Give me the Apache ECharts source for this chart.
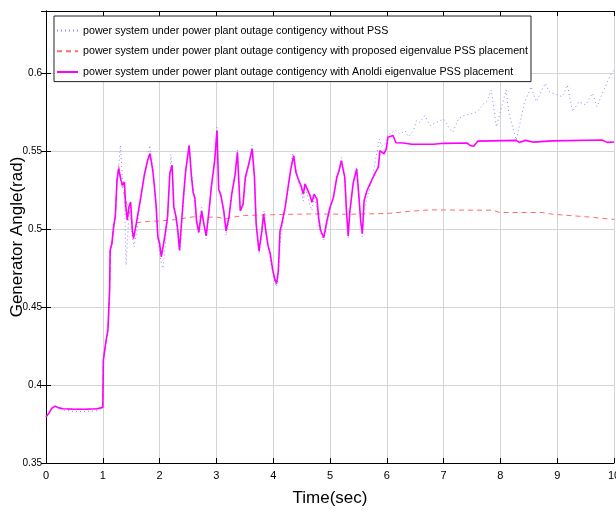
<!DOCTYPE html>
<html>
<head>
<meta charset="utf-8">
<script src="https://cdn.jsdelivr.net/npm/echarts@6/dist/echarts.min.js"></script>
<style>
html,body{margin:0;padding:0;background:#fff;}
#main{width:616px;height:513px;}
</style>
</head>
<body>
<div id="main"></div>
<script>
// Anoldi eigenvalue PSS placement (magenta solid)
var timeAnoldi = [0, 0.05, 0.1, 0.16, 0.22, 0.3, 0.5, 0.7, 0.9, 1.0, 1.01, 1.05, 1.09, 1.12, 1.13, 1.16, 1.19, 1.22, 1.25, 1.28,
    1.32, 1.35, 1.38, 1.40, 1.43, 1.46, 1.49, 1.52, 1.54, 1.58, 1.63, 1.67, 1.73, 1.79, 1.83, 1.88, 1.91, 1.94, 1.97, 2.0,
    2.03, 2.06, 2.09, 2.14, 2.18, 2.22, 2.25, 2.29, 2.32, 2.35, 2.42, 2.46, 2.52, 2.56, 2.59, 2.62, 2.65, 2.69, 2.74, 2.78,
    2.82, 2.87, 2.91, 2.97, 3.01, 3.04, 3.08, 3.13, 3.17, 3.22, 3.27, 3.33, 3.37, 3.42, 3.47, 3.51, 3.57, 3.63, 3.67, 3.70,
    3.75, 3.80, 3.83, 3.87, 3.91, 3.95, 3.99, 4.03, 4.06, 4.09, 4.12, 4.15, 4.21, 4.27, 4.31, 4.36, 4.40, 4.44, 4.49, 4.53,
    4.56, 4.60, 4.65, 4.68, 4.72, 4.77, 4.80, 4.83, 4.85, 4.89, 4.94, 5.0, 5.06, 5.12, 5.16, 5.2, 5.26, 5.29, 5.32, 5.35,
    5.41, 5.47, 5.51, 5.54, 5.57, 5.6, 5.65, 5.73, 5.8, 5.85, 5.88, 5.91, 5.95, 5.99, 6.02, 6.05, 6.11, 6.16, 6.29, 6.44,
    6.82, 7.0, 7.41, 7.48, 7.53, 7.6, 8.28, 8.33, 8.44, 8.57, 8.92, 9.79, 9.88, 10.0];
var angleAnoldi = [0.3795, 0.382, 0.385, 0.3865, 0.3855, 0.3848, 0.3845, 0.3845, 0.3848, 0.3857, 0.416, 0.4267, 0.4352, 0.461, 0.4865, 0.4908, 0.5015, 0.508, 0.5314, 0.5389,
    0.5314, 0.5282, 0.5303, 0.5164, 0.5058, 0.5143, 0.5175, 0.4994, 0.494, 0.5015, 0.5122, 0.5207, 0.5346, 0.5442, 0.5485, 0.5378, 0.5271, 0.5143, 0.495, 0.4908,
    0.4823, 0.4833, 0.495, 0.5079, 0.5357, 0.541, 0.5143, 0.5079, 0.4994, 0.4865, 0.5207, 0.5378, 0.5536, 0.5343, 0.5236, 0.5204, 0.5054, 0.4979, 0.5118, 0.5032,
    0.4957, 0.5118, 0.5268, 0.544, 0.5633, 0.5257, 0.5215, 0.5118, 0.4989, 0.5075, 0.5225, 0.5354, 0.5494, 0.5118, 0.5161, 0.5333, 0.5418, 0.5515, 0.5333, 0.5032,
    0.486, 0.4989, 0.5097, 0.4989, 0.4893, 0.4839, 0.4742, 0.4678, 0.465, 0.4732, 0.4989, 0.5032, 0.514, 0.529, 0.5386, 0.5472, 0.5365, 0.5322, 0.5279, 0.5225,
    0.529, 0.5257, 0.5215, 0.5172, 0.5225, 0.5193, 0.5075, 0.5, 0.4979, 0.4946, 0.5043, 0.514, 0.5204, 0.5333, 0.5376, 0.544, 0.5333, 0.5118, 0.4957, 0.5118,
    0.53, 0.5386, 0.5204, 0.5054, 0.4972, 0.5182, 0.5247, 0.5311, 0.5365, 0.5397, 0.5504, 0.5515, 0.5483, 0.5515, 0.559, 0.5601, 0.5601, 0.5555, 0.5553, 0.5545,
    0.5545, 0.5551, 0.5553, 0.5535, 0.5532, 0.5565, 0.557, 0.5557, 0.557, 0.5559, 0.5567, 0.5572, 0.5557, 0.556];

// proposed eigenvalue PSS placement (red dashed)
var timeProposed = [0, 0.05, 0.1, 0.16, 0.22, 0.3, 0.5, 0.7, 0.9, 1.0, 1.01, 1.05, 1.09, 1.12, 1.13, 1.16, 1.19, 1.22, 1.25, 1.28,
    1.32, 1.38, 1.45, 1.52, 1.6, 1.8, 2.0, 2.3, 2.6, 2.8, 3.0, 3.16, 3.3, 3.5, 4.1, 4.7, 5.3, 5.7, 6.05, 6.4,
    6.76, 7.0, 7.87, 7.99, 8.74, 8.92, 9.5, 10.0];
var angleProposed = [0.3795, 0.382, 0.385, 0.3865, 0.3855, 0.3848, 0.3845, 0.3845, 0.3848, 0.3857, 0.416, 0.4267, 0.4352, 0.461, 0.4865, 0.4908, 0.5015, 0.508, 0.5314, 0.541,
    0.530, 0.522, 0.512, 0.504, 0.5042, 0.505, 0.5053, 0.5062, 0.508, 0.5077, 0.5078, 0.5066, 0.5078, 0.5088, 0.5094, 0.5098, 0.5096, 0.5098, 0.5102, 0.5115,
    0.5124, 0.5123, 0.5122, 0.5107, 0.5107, 0.5096, 0.508, 0.5063];

// without PSS (blue dotted)
var timeNoPss = [0, 0.05, 0.1, 0.16, 0.22, 0.3, 0.5, 0.7, 0.9, 1.0, 1.01, 1.05, 1.09, 1.12, 1.13, 1.16, 1.19, 1.22, 1.25, 1.28,
    1.31, 1.35, 1.38, 1.41, 1.46, 1.49, 1.52, 1.55, 1.6, 1.67, 1.73, 1.79, 1.83, 1.88, 1.94, 1.97, 2.03, 2.06, 2.1, 2.14,
    2.2, 2.25, 2.29, 2.32, 2.36, 2.42, 2.46, 2.52, 2.56, 2.59, 2.65, 2.69, 2.74, 2.78, 2.82, 2.87, 2.91, 2.97, 3.01, 3.04,
    3.08, 3.13, 3.17, 3.22, 3.27, 3.33, 3.37, 3.42, 3.47, 3.51, 3.57, 3.63, 3.67, 3.70, 3.75, 3.80, 3.84, 3.87, 3.91, 3.95,
    3.99, 4.03, 4.06, 4.09, 4.12, 4.15, 4.21, 4.27, 4.31, 4.34, 4.40, 4.44, 4.49, 4.53, 4.56, 4.60, 4.65, 4.68, 4.72, 4.77,
    4.80, 4.83, 4.85, 4.89, 4.94, 5.0, 5.06, 5.12, 5.16, 5.2, 5.26, 5.29, 5.32, 5.35, 5.41, 5.47, 5.51, 5.54, 5.57, 5.6,
    5.65, 5.73, 5.8, 5.87, 5.91, 5.97, 6.02, 6.06, 6.14, 6.23, 6.32, 6.38, 6.47, 6.52, 6.58, 6.67, 6.76, 6.88, 7.0, 7.09,
    7.16, 7.26, 7.35, 7.53, 7.61, 7.7, 7.76, 7.84, 7.93, 8.1, 8.15, 8.28, 8.42, 8.54, 8.63, 8.79, 8.86, 9.09, 9.18, 9.27,
    9.38, 9.5, 9.62, 9.7, 9.82, 9.94, 10.0];
var angleNoPss = [0.3795, 0.382, 0.385, 0.3862, 0.385, 0.384, 0.383, 0.383, 0.3835, 0.385, 0.416, 0.4267, 0.4352, 0.461, 0.4865, 0.4908, 0.5015, 0.508, 0.5314, 0.54,
    0.5538, 0.53, 0.525, 0.477, 0.51, 0.515, 0.495, 0.4887, 0.499, 0.519, 0.534, 0.545, 0.5538, 0.54, 0.512, 0.492, 0.478, 0.4748, 0.49, 0.507,
    0.548, 0.515, 0.505, 0.497, 0.4855, 0.518, 0.537, 0.5545, 0.538, 0.526, 0.507, 0.498, 0.514, 0.504, 0.494, 0.511, 0.528, 0.545, 0.5655, 0.528,
    0.522, 0.51, 0.496, 0.506, 0.522, 0.536, 0.551, 0.513, 0.517, 0.532, 0.542, 0.554, 0.535, 0.505, 0.484, 0.497, 0.512, 0.5, 0.488, 0.48,
    0.472, 0.466, 0.463, 0.47, 0.49, 0.5, 0.512, 0.527, 0.5386, 0.549, 0.54, 0.53, 0.526, 0.518, 0.526, 0.522, 0.515, 0.512, 0.52, 0.514,
    0.502, 0.497, 0.4965, 0.493, 0.502, 0.512, 0.52, 0.533, 0.538, 0.546, 0.533, 0.51, 0.494, 0.51, 0.53, 0.54, 0.52, 0.503, 0.495, 0.51,
    0.52, 0.53, 0.544, 0.5579, 0.553, 0.5547, 0.561, 0.5611, 0.5637, 0.5611, 0.5632, 0.5594, 0.5632, 0.5697, 0.5686, 0.5729, 0.5665, 0.5686, 0.5707, 0.5654,
    0.5622, 0.5707, 0.5729, 0.5744, 0.5761, 0.5803, 0.582, 0.5893, 0.5657, 0.5893, 0.5743, 0.5572, 0.5807, 0.5914, 0.5818, 0.5936, 0.5882, 0.585, 0.5925, 0.5754,
    0.5818, 0.5797, 0.5872, 0.5786, 0.5893, 0.599, 0.602];

var legendNames = [
    'power system under power plant outage contigency without PSS',
    'power system under power plant outage contigency with proposed eigenvalue PSS placement',
    'power system under power plant outage contigency with Anoldi eigenvalue PSS placement'
];

function zip(ts, vs) {
    return ts.map(function (t, i) { return [t, vs[i]]; });
}

var sans = '"Liberation Sans", Arial, sans-serif';

var myChart = echarts.init(document.getElementById('main'));

var option = {
    backgroundColor: '#fff',
    animation: false,
    grid: { left: 46, right: 2, top: 11, bottom: 50, outerBoundsMode: 'none', containLabel: false },
    legend: {
        orient: 'vertical',
        left: 54,
        top: 16,
        padding: [9, 3, 4, 2],
        itemWidth: 21,
        itemHeight: 14,
        itemGap: 9.5,
        backgroundColor: '#fff',
        borderColor: '#222',
        borderWidth: 1,
        itemStyle: { opacity: 0 },
        textStyle: { fontFamily: sans, fontSize: 10.7, color: '#000' },
        data: legendNames
    },
    xAxis: [{
        type: 'value',
        min: 0, max: 10, interval: 1,
        name: 'Time(sec)',
        nameLocation: 'middle',
        nameGap: 27,
        nameMoveOverlap: false,
        nameTextStyle: { fontFamily: sans, fontSize: 17, color: '#000' },
        axisLine: { lineStyle: { color: '#000' } },
        axisTick: { inside: true, length: 5, lineStyle: { color: '#000' } },
        axisLabel: { fontFamily: sans, fontSize: 11, color: '#000', margin: 7 },
        splitLine: { show: true, lineStyle: { color: '#d4d4d4', width: 1 } }
    }, {
        type: 'value', position: 'top',
        min: 0, max: 10, interval: 1,
        axisLine: { show: true, lineStyle: { color: '#000' } },
        axisTick: { inside: true, length: 5, lineStyle: { color: '#000' } },
        axisLabel: { show: false },
        splitLine: { show: false }
    }],
    yAxis: [{
        type: 'value',
        min: 0.35, max: 0.64, interval: 0.05,
        name: 'Generator Angle(rad)',
        nameLocation: 'middle',
        nameGap: 20,
        nameMoveOverlap: false,
        nameTextStyle: { fontFamily: sans, fontSize: 17, color: '#000' },
        axisLine: { show: true, lineStyle: { color: '#000' } },
        axisTick: { inside: true, length: 5, lineStyle: { color: '#000' } },
        axisLabel: { fontFamily: sans, fontSize: 10, color: '#000', margin: 4, showMaxLabel: false },
        splitLine: { show: true, lineStyle: { color: '#d4d4d4', width: 1 } }
    }, {
        type: 'value', position: 'right',
        min: 0.35, max: 0.64, interval: 0.05,
        axisLine: { show: true, lineStyle: { color: '#000' } },
        axisTick: { inside: true, length: 5, lineStyle: { color: '#000' } },
        axisLabel: { show: false },
        splitLine: { show: false }
    }],
    series: [{
        name: legendNames[0],
        type: 'line',
        symbol: 'none',
        data: zip(timeNoPss, angleNoPss),
        itemStyle: { color: '#8a8aff' },
        lineStyle: { color: '#8a8aff', width: 1, type: [1, 3] },
        z: 3
    }, {
        name: legendNames[1],
        type: 'line',
        symbol: 'none',
        data: zip(timeProposed, angleProposed),
        itemStyle: { color: '#ff6a6a' },
        lineStyle: { color: '#ff6a6a', width: 1, type: [5, 4] },
        z: 2
    }, {
        name: legendNames[2],
        type: 'line',
        symbol: 'none',
        data: zip(timeAnoldi, angleAnoldi),
        itemStyle: { color: '#ff00ff' },
        lineStyle: { color: '#ff00ff', width: 1.6 },
        z: 4
    }]
};

myChart.setOption(option);
</script>
</body>
</html>
